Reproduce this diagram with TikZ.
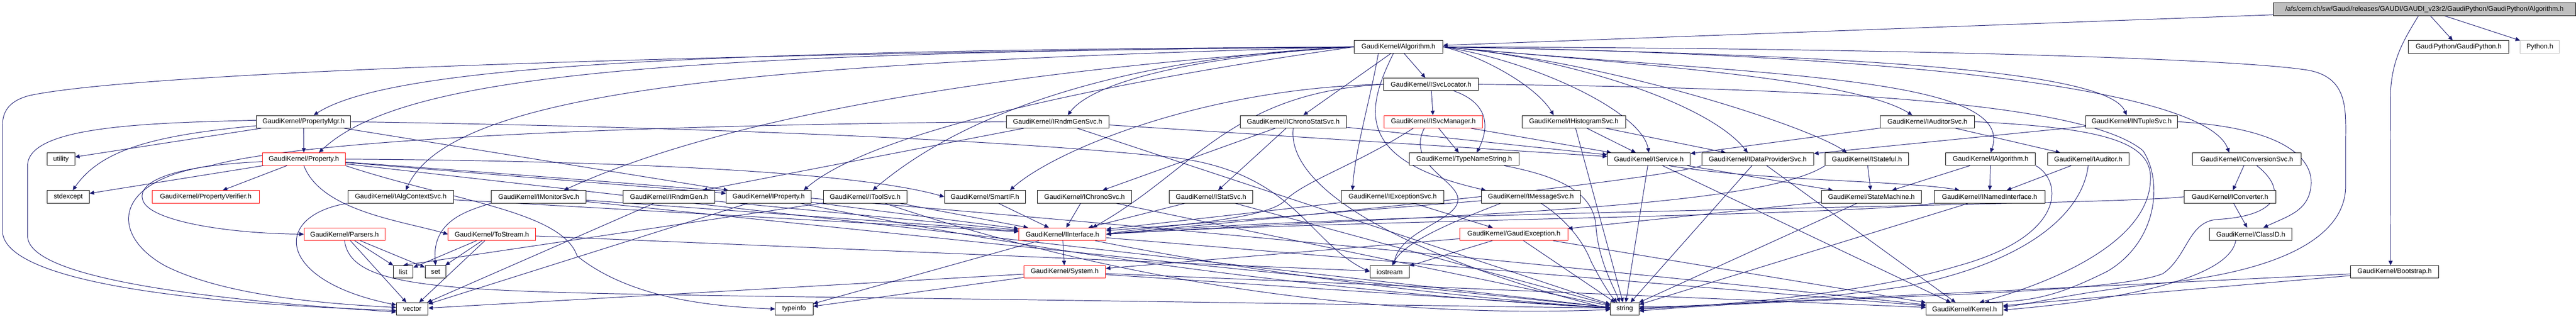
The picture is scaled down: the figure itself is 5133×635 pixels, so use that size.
\documentclass[tikz,border=0pt]{standalone}
\usepackage{fontspec}
\setmainfont{Liberation Sans}
\usetikzlibrary{arrows.meta}
\definecolor{edgeblue}{HTML}{191970}
\definecolor{gvgray}{HTML}{BFBFBF}
\pgfdeclarelayer{edgelayer}
\pgfsetlayers{edgelayer,main}
\tikzset{
  box/.style={draw=black, fill=white, line width=1bp, inner sep=0pt, minimum height=25bp, font=\fontsize{13.5bp}{16bp}\selectfont},
  redbox/.style={box, draw=red},
  e/.style={draw=edgeblue, line width=1bp, -{Triangle[length=9bp,width=8bp]}},
}
\begin{document}
\begin{tikzpicture}[x=1bp,y=-1bp]
\useasboundingbox (0,0) rectangle (5133,635);
% row A
\node[box, fill=gvgray, minimum width=602bp] (T) at (4831,18.5) {/afs/cern.ch/sw/Gaudi/releases/GAUDI/GAUDI\_v23r2/GaudiPython/GaudiPython/Algorithm.h};
% row B
\node[box, minimum width=177bp] (Alg) at (2786.5,93.5) {GaudiKernel/Algorithm.h};
\node[box, minimum width=200bp] (GP) at (4899,93.5) {GaudiPython/GaudiPython.h};
\node[box, draw=gvgray, minimum width=78bp] (Py) at (5061,93.5) {Python.h};
% row C
\node[box, minimum width=189bp] (ISL) at (2851.5,168) {GaudiKernel/ISvcLocator.h};
% row D
\node[box, minimum width=188bp] (PMgr) at (605,242.5) {GaudiKernel/PropertyMgr.h};
\node[box, minimum width=205bp] (IRGS) at (2107.5,242.5) {GaudiKernel/IRndmGenSvc.h};
\node[box, minimum width=212bp] (ICSS) at (2577,242.5) {GaudiKernel/IChronoStatSvc.h};
\node[redbox, minimum width=196bp] (ISM) at (2856,242.5) {GaudiKernel/ISvcManager.h};
\node[box, minimum width=206bp] (IHS) at (3136,242.5) {GaudiKernel/IHistogramSvc.h};
\node[box, minimum width=187bp] (IAS) at (3840.5,242.5) {GaudiKernel/IAuditorSvc.h};
\node[box, minimum width=183bp] (INTS) at (4247.5,242.5) {GaudiKernel/INTupleSvc.h};
% row E
\node[box, minimum width=55bp] (util) at (121.5,317) {utility};
\node[redbox, minimum width=165bp] (Prop) at (605.5,317) {GaudiKernel/Property.h};
\node[box, minimum width=219bp] (TNS) at (2917.5,317) {GaudiKernel/TypeNameString.h};
\node[box, minimum width=165bp] (ISvc) at (3285.5,317) {GaudiKernel/IService.h};
\node[box, minimum width=223bp] (IDPS) at (3502.5,317) {GaudiKernel/IDataProviderSvc.h};
\node[box, minimum width=166bp] (IStf) at (3720,317) {GaudiKernel/IStateful.h};
\node[box, minimum width=179bp] (IAlgo) at (3966.5,317) {GaudiKernel/IAlgorithm.h};
\node[box, minimum width=162bp] (IAud) at (4161,317) {GaudiKernel/IAuditor.h};
\node[box, minimum width=216bp] (ICvS) at (4477,317) {GaudiKernel/IConversionSvc.h};
% row F
\node[box, minimum width=84bp] (stdx) at (136,392) {stdexcept};
\node[redbox, minimum width=214bp] (PVer) at (410,392) {GaudiKernel/PropertyVerifier.h};
\node[box, minimum width=211bp] (IACS) at (798.5,392) {GaudiKernel/IAlgContextSvc.h};
\node[box, minimum width=189bp] (IMon) at (1073.5,392) {GaudiKernel/IMonitorSvc.h};
\node[box, minimum width=182bp] (IRG) at (1333,392) {GaudiKernel/IRndmGen.h};
\node[box, minimum width=169bp] (IProp) at (1531.5,392) {GaudiKernel/IProperty.h};
\node[box, minimum width=166bp] (ITool) at (1724,392) {GaudiKernel/IToolSvc.h};
\node[box, minimum width=161bp] (SIF) at (1962.5,392) {GaudiKernel/SmartIF.h};
\node[box, minimum width=188bp] (IChr) at (2161,392) {GaudiKernel/IChronoSvc.h};
\node[box, minimum width=166bp] (IStat) at (2413,392) {GaudiKernel/IStatSvc.h};
\node[box, minimum width=204bp] (IExc) at (2775,392) {GaudiKernel/IExceptionSvc.h};
\node[box, minimum width=197bp] (IMsg) at (3050.5,392) {GaudiKernel/IMessageSvc.h};
\node[box, minimum width=200bp] (SM) at (3729,392) {GaudiKernel/StateMachine.h};
\node[box, minimum width=221bp] (INI) at (3964.5,392) {GaudiKernel/INamedInterface.h};
\node[box, minimum width=183bp] (ICvt) at (4443.5,392) {GaudiKernel/IConverter.h};
% row G
\node[redbox, minimum width=161bp] (Pars) at (686.5,466.5) {GaudiKernel/Parsers.h};
\node[redbox, minimum width=174bp] (TS) at (980,466.5) {GaudiKernel/ToStream.h};
\node[redbox, minimum width=174bp] (IIf) at (2117,466.5) {GaudiKernel/IInterface.h};
\node[redbox, minimum width=215bp] (GExc) at (3016.5,466.5) {GaudiKernel/GaudiException.h};
\node[box, minimum width=164bp] (CID) at (4485,466.5) {GaudiKernel/ClassID.h};
% row H
\node[box, minimum width=39bp] (list) at (803.5,541.5) {list};
\node[box, minimum width=42bp] (set) at (868,541.5) {set};
\node[redbox, minimum width=163bp] (Sys) at (2121.5,541.5) {GaudiKernel/System.h};
\node[box, minimum width=78bp] (iostr) at (2769,541.5) {iostream};
\node[box, minimum width=175bp] (Boot) at (4771.5,541.5) {GaudiKernel/Bootstrap.h};
% row I
\node[box, minimum width=63bp] (vector) at (821.5,615.5) {vector};
\node[box, minimum width=75bp] (tinfo) at (1582.5,615.5) {typeinfo};
\node[box, minimum width=57bp] (string) at (3237.5,615.5) {string};
\node[box, minimum width=153bp] (Kern) at (3914.5,615.5) {GaudiKernel/Kernel.h};

\begin{pgfonlayer}{edgelayer}
% title
\draw[e] (T) -- (Alg);
\draw[e] (T) -- (GP);
\draw[e] (T) -- (Py);
\draw[e] ([xshift=-12bp]T.south) .. controls (4790,80) and (4763,120) .. (4763,200) -- ([xshift=-8bp]Boot.north);
% Algorithm.h
\draw[e] (Alg.west) .. controls (1400,100) and (780,130) .. ([xshift=20bp]PMgr.north);
\draw[e] (Alg.west) .. controls (1300,105) and (800,150) .. ([xshift=30bp]Prop.north);
\draw[e] (Alg.west) .. controls (1500,105) and (300,140) .. (60,190) .. controls (20,200) and (5,220) .. (5,250) -- (5,460) .. controls (5,540) and (250,600) .. ([yshift=-3bp]vector.west);
\draw[e] (Alg.west) .. controls (1500,125) and (900,180) .. ([xshift=10bp]IACS.north);
\draw[e] (Alg.west) .. controls (2000,140) and (1450,230) .. ([xshift=50bp]IMon.north);
\draw[e] (Alg.west) .. controls (2300,150) and (1750,250) .. ([xshift=70bp]IProp.north);
\draw[e] (Alg.west) .. controls (2300,110) and (1950,200) .. ([xshift=15bp]ITool.north);
\draw[e] (Alg.west) .. controls (2400,110) and (2180,160) .. ([xshift=20bp]IRGS.north);
\draw[e] ([xshift=-15bp]Alg.south) -- ([xshift=20bp]ICSS.north);
\draw[e] (Alg) -- (ISL);
\draw[e] (Alg.east) .. controls (2950,110) and (3060,170) .. ([xshift=-40bp]IHS.north);
\draw[e] (Alg.east) .. controls (3050,120) and (3270,220) .. (ISvc.north);
\draw[e] (Alg.east) .. controls (3100,110) and (3400,200) .. ([xshift=-20bp]IDPS.north);
\draw[e] (Alg.east) .. controls (3200,120) and (3600,250) .. ([xshift=-40bp]IStf.north);
\draw[e] (Alg.east) .. controls (3300,130) and (3700,160) .. ([xshift=-30bp]IAS.north);
\draw[e] (Alg.east) .. controls (3500,150) and (4020,150) .. (IAlgo.north);
\draw[e] (Alg.east) .. controls (3700,110) and (4200,140) .. ([xshift=-10bp]INTS.north);
\draw[e] (Alg.east) .. controls (3900,110) and (4400,190) .. ([xshift=-35bp]ICvS.north);
\draw[e] ([xshift=-10bp]Alg.south) .. controls (2720,220) and (2700,320) .. ([xshift=-90bp]IMsg.north);
\draw[e] ([xshift=-40bp]Alg.south) .. controls (2730,200) and (2700,300) .. ([xshift=-80bp]IExc.north);
\draw[e] (Alg.east) .. controls (3700,95) and (4450,115) .. (4600,140) .. controls (4680,155) and (4674,220) .. (4674,280) -- (4674,370) .. controls (4674,470) and (4550,540) .. (4300,565) .. controls (4150,580) and (4050,605) .. ([yshift=4bp]Kern.east);
% ISvcLocator.h
\draw[e] (ISL) -- (ISM);
\draw[e] ([xshift=45bp]ISL.south) .. controls (2980,210) and (2960,270) .. ([xshift=25bp]TNS.north);
\draw[e] (ISL.west) .. controls (2400,175) and (2100,300) .. ([xshift=50bp]SIF.north);
\draw[e] (ISL.west) .. controls (2450,185) and (2380,340) .. ([xshift=60bp]IIf.north);
\draw[e] (ISL.east) .. controls (3600,175) and (4150,200) .. (4270,300) .. controls (4310,360) and (4300,480) .. (4200,540) .. controls (4100,590) and (4050,600) .. ([xshift=40bp]Kern.north);
% PropertyMgr.h
\draw[e] (PMgr) -- (util);
\draw[e] ([yshift=-8bp]PMgr.west) .. controls (300,270) and (200,300) .. ([xshift=9bp]stdx.north);
\draw[e] (PMgr) -- (Prop);
\draw[e] ([yshift=3bp]PMgr.west) .. controls (300,245) and (55,250) .. (55,330) -- (55,470) .. controls (55,540) and (300,590) .. ([yshift=-6bp]vector.west);
\draw[e] (PMgr.east) .. controls (1200,250) and (1900,270) .. (2300,310) .. controls (2580,330) and (2600,480) .. (iostr.west);
\draw[e] (PMgr) -- (IProp);
% IRndmGenSvc.h
\draw[e] (IRGS) -- (IRG);
\draw[e] (IRGS.west) .. controls (1200,250) and (600,280) .. (420,330) .. controls (220,360) and (220,470) .. (330,530) .. controls (450,590) and (650,605) .. ([yshift=3bp]vector.west);
\draw[e] (IRGS) -- (ISvc);
\draw[e] (IRGS) -- (string);
% IChronoStatSvc.h
\draw[e] (ICSS) -- (IChr);
\draw[e] (ICSS) -- (IStat);
\draw[e] (ICSS) -- (ISvc);
\draw[e] (ICSS.south) .. controls (2560,400) and (2900,540) .. (string.west);
% ISvcManager.h
\draw[e] (ISM) -- (ISvc);
\draw[e] (ISM) -- (TNS);
\draw[e] ([xshift=-40bp]ISM.south) .. controls (2700,330) and (2600,360) .. (2560,400) .. controls (2520,440) and (2300,450) .. (IIf.east);
\draw[e] ([xshift=-18bp]ISM.south) .. controls (2800,330) and (2910,360) .. (2905,400) .. controls (2900,440) and (2790,460) .. ([xshift=8bp]iostr.north);
% IHistogramSvc.h
\draw[e] (IHS) -- (ISvc);
\draw[e] (IHS) -- (IDPS);
\draw[e] (IHS) -- (string);
% IAuditorSvc.h
\draw[e] (IAS) -- (ISvc);
\draw[e] (IAS) -- (IAud);
\draw[e] (IAS.east) .. controls (4200,255) and (4290,285) .. (4285,360) .. controls (4280,480) and (4100,560) .. ([xshift=30bp]Kern.north);
% INTupleSvc.h
\draw[e] (INTS) -- (IDPS);
\draw[e] (INTS.east) .. controls (4560,255) and (4610,320) .. (4605,370) .. controls (4600,420) and (4560,430) .. ([xshift=25bp]CID.north);
% Property.h
\draw[e] (Prop) -- (stdx);
\draw[e] (Prop) -- (PVer);
\draw[e] ([yshift=-5bp]Prop.west) .. controls (350,330) and (270,360) .. (285,400) .. controls (300,440) and (450,465) .. (Pars.west);
\draw[e] (Prop.south) .. controls (640,420) and (800,440) .. (TS.west);
\draw[e] (Prop.east) .. controls (1200,320) and (1700,340) .. (SIF.west);
\draw[e] (Prop.south east) .. controls (900,400) and (1120,420) .. (1150,510) .. controls (1250,590) and (1400,610) .. (tinfo.west);
\draw[e] (Prop) -- (string);
\draw[e] (Prop) .. controls (1708,396) and (2811,496) .. (Kern);
\draw[e] (Prop) -- (IProp);
% second-level
\draw[e] ([xshift=80bp]TNS.south) .. controls (3100,350) and (3175,380) .. (3180,450) .. controls (3185,520) and (3215,570) .. ([xshift=-10bp]string.north);
\draw[e] ([xshift=40bp]ISvc.south) .. controls (3500,360) and (3800,360) .. ([xshift=-60bp]INI.north);
\draw[e] (ISvc) -- (SM);
\draw[e] (ISvc) -- (string);
\draw[e] (ISvc) -- (Kern);
\draw[e] (IDPS.south west) .. controls (3300,360) and (2600,430) .. (IIf.east);
\draw[e] (IDPS) -- (string);
\draw[e] (IDPS) -- (Kern);
\draw[e] (IStf) -- (SM);
\draw[e] (IStf.south west) .. controls (3500,420) and (2800,430) .. (IIf.east);
\draw[e] (IAlgo) -- (INI);
\draw[e] (IAlgo) -- (SM);
\draw[e] (IAlgo.south east) .. controls (4110,360) and (4120,470) .. (3900,530) .. controls (3700,590) and (3400,610) .. (string.east);
\draw[e] (IAud) -- (INI);
\draw[e] (IAud.south) .. controls (4150,420) and (4050,520) .. (3800,570) .. controls (3600,600) and (3400,610) .. ([yshift=4bp]string.east);
\draw[e] (ICvS) -- (ICvt);
\draw[e] ([xshift=20bp]ICvS.south) .. controls (4560,380) and (4540,430) .. (4420,437) .. controls (4360,440) and (4360,510) .. (4310,545) .. controls (4200,590) and (3600,590) .. ([yshift=-4bp]string.east);
% row F sources
\draw[e] (IACS) -- (IIf);
\draw[e] (IACS.south west) .. controls (540,430) and (550,560) .. ([yshift=8bp]vector.west);
\draw[e] (IMon) -- (IIf);
\draw[e] (IMon.south west) .. controls (930,420) and (860,440) .. (set.north);
\draw[e] (IMon) -- (string);
\draw[e] (IRG) -- (IIf);
\draw[e] (IRG) -- (vector);
\draw[e] (IProp) -- (IIf);
\draw[e] (IProp) .. controls (2100,509) and (2668,584) .. (string);
\draw[e] (IProp) -- (vector);
\draw[e] (ITool) -- (IIf);
\draw[e] (ITool) .. controls (2228,561) and (2733,636) .. (string);
\draw[e] (ITool) -- (list.north);
\draw[e] (SIF) -- (IIf);
\draw[e] (IChr) -- (IIf);
\draw[e] (IChr) -- (string);
\draw[e] (IStat) -- (IIf);
\draw[e] (IStat) -- (string);
\draw[e] (IExc) -- (IIf);
\draw[e] (IExc) -- (GExc);
\draw[e] (IMsg) -- (IIf);
\draw[e] ([xshift=-60bp]IMsg.south) .. controls (2900,440) and (2800,480) .. ([xshift=5bp]iostr.north);
\draw[e] ([xshift=20bp]IMsg.south) .. controls (3110,430) and (3150,470) .. (3170,520) .. controls (3190,560) and (3210,590) .. ([xshift=-15bp]string.north);
\draw[e] (SM) -- (GExc);
\draw[e] (SM) -- (string);
\draw[e] (INI.south west) .. controls (3700,430) and (2600,440) .. (IIf.east);
\draw[e] (INI) -- (string);
\draw[e] (ICvt.west) .. controls (4200,410) and (2700,420) .. (IIf.east);
\draw[e] (ICvt) -- (CID);
% row G sources
\draw[e] (Pars) -- (list);
\draw[e] (Pars) -- (set);
\draw[e] (Pars) -- (vector);
\draw[e] (Pars.south) .. controls (700,580) and (900,580) .. (1500,590) .. controls (2300,600) and (2900,610) .. ([yshift=2bp]string.west);
\draw[e] (TS) -- (list);
\draw[e] (TS) -- (set);
\draw[e] (TS) -- (vector);
\draw[e] (TS) -- (iostr);
\draw[e] (IIf) -- (Sys);
\draw[e] (IIf) -- (Kern);
\draw[e] (IIf) -- (tinfo);
\draw[e] (IIf) .. controls (2490,541) and (2864,590) .. (string);
\draw[e] (GExc) -- (iostr);
\draw[e] (GExc) -- (string);
\draw[e] (GExc) -- (Kern);
\draw[e] (GExc) -- (Sys);
\draw[e] ([xshift=-30bp]CID.south) .. controls (4440,560) and (4200,600) .. ([yshift=-2bp]Kern.east);
% row H sources
\draw[e] (Sys) -- (Kern);
\draw[e] (Sys) -- (string);
\draw[e] (Sys) -- (vector);
\draw[e] (Sys) -- (tinfo);
\draw[e] (Boot) -- (Kern);
\draw[e] (Boot) -- (string);
\end{pgfonlayer}
\end{tikzpicture}
\end{document}
